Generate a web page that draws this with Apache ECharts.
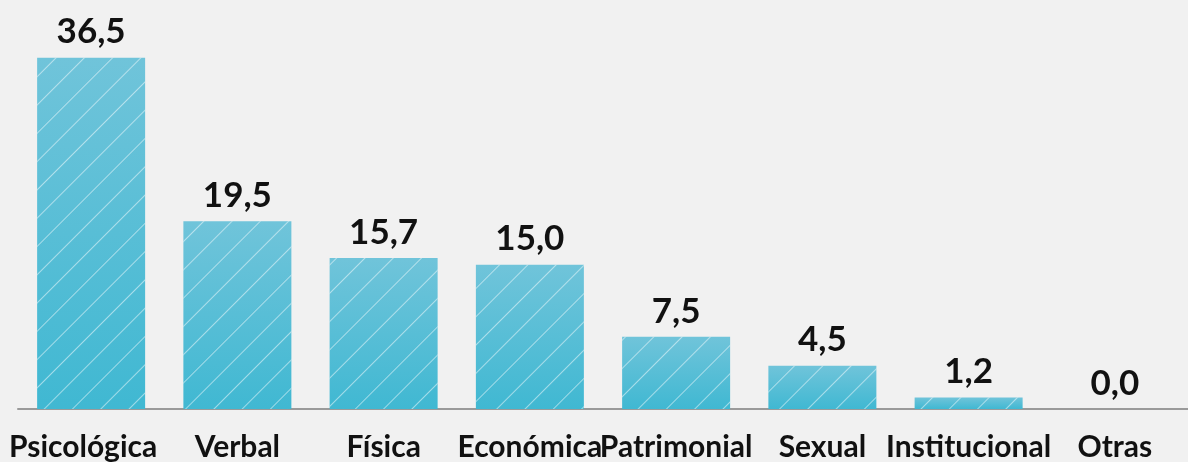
<!DOCTYPE html>
<html>
<head>
<meta charset="utf-8">
<script src="https://cdn.jsdelivr.net/npm/echarts@6/dist/echarts.min.js"></script>
<style>
  html, body { margin: 0; padding: 0; background: #f1f1f1; }
  #chart { width: 1188px; height: 462px; }
</style>
</head>
<body>
<div id="chart"></div>
<script>
// Tipos de violencia (%)
const categories = ['Psicológica', 'Verbal', 'Física', 'Económica', 'Patrimonial', 'Sexual', 'Institucional', 'Otras'];
const values = [36.5, 19.5, 15.7, 15.0, 7.5, 4.5, 1.2, 0.0];

const chart = echarts.init(document.getElementById('chart'), null, { renderer: 'canvas' });

// the first label is nudged left so it stays clear of the chart edge
const axisData = categories.map((name, i) =>
  i === 0 ? { value: name, textStyle: { padding: [0, 16, 0, 0] } } : name
);

chart.setOption({
  backgroundColor: '#f1f1f1',
  animation: false,
  grid: { left: 18, right: 0, top: 24, bottom: 53, containLabel: false },
  xAxis: {
    type: 'category',
    data: axisData,
    axisTick: { show: false },
    axisLine: { lineStyle: { color: '#9a9a9a', width: 2 } },
    axisLabel: {
      interval: 0,
      margin: 23,
      color: '#111',
      fontFamily: 'Lato',
      fontWeight: 'bold',
      fontSize: 30
    }
  },
  yAxis: {
    type: 'value',
    min: 0,
    max: 40,
    show: false
  },
  series: [{
    type: 'bar',
    data: values,
    barWidth: 108,
    itemStyle: {
      color: {
        type: 'linear', x: 0, y: 0, x2: 0, y2: 1,
        colorStops: [
          { offset: 0, color: '#70c4da' },
          { offset: 1, color: '#40b8d2' }
        ]
      },
      // thin white diagonal hatching over the gradient
      decal: {
        symbol: 'rect',
        dashArrayX: [1, 0],
        dashArrayY: [1, 19],
        rotation: -Math.PI / 4,
        color: 'rgba(255,255,255,0.5)'
      }
    },
    label: {
      show: true,
      position: 'top',
      distance: 8,
      color: '#111',
      fontFamily: 'Lato',
      fontWeight: 'bold',
      fontSize: 35,
      formatter: p => p.value.toFixed(1).replace('.', ',')
    }
  }]
});
</script>
</body>
</html>
